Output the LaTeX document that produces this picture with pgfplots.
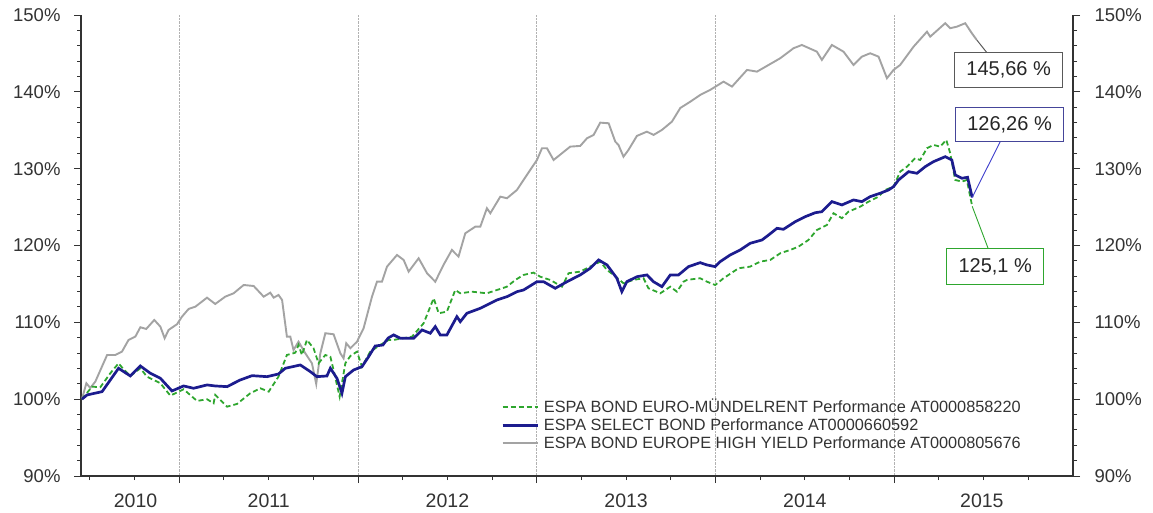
\documentclass[border=0pt]{standalone}
\usepackage{pgfplots}
\pgfplotsset{compat=1.18}
\usepackage{pgfplotstable}
\usepackage{fontspec}
\setmainfont{Liberation Sans}
\definecolor{cgreen}{HTML}{2EA62E}
\definecolor{cblue}{HTML}{1C1C8E}
\definecolor{cgray}{HTML}{A3A3A3}
\definecolor{txt}{HTML}{333333}

\pgfplotstableread{
x y
2010.455 100.00
2010.480 102.07
2010.502 101.46
2010.530 102.28
2010.596 105.75
2010.642 105.75
2010.679 106.18
2010.716 107.71
2010.754 108.14
2010.782 109.36
2010.815 109.14
2010.860 110.31
2010.894 109.44
2010.918 107.93
2010.940 109.01
2010.987 109.75
2011.015 110.74
2011.052 111.74
2011.090 112.04
2011.155 113.21
2011.201 112.39
2011.257 113.34
2011.304 113.78
2011.360 114.86
2011.416 114.73
2011.472 113.34
2011.509 113.86
2011.528 113.21
2011.555 113.56
2011.575 112.91
2011.602 108.14
2011.621 108.14
2011.639 106.40
2011.667 107.48
2011.705 105.97
2011.742 104.67
2011.766 101.98
2011.789 105.97
2011.817 108.58
2011.863 108.45
2011.901 105.97
2011.919 105.32
2011.934 107.28
2011.957 106.63
2011.994 107.48
2012.031 109.23
2012.078 113.34
2012.106 115.29
2012.134 115.29
2012.162 117.25
2012.218 118.77
2012.255 118.12
2012.283 116.60
2012.339 118.34
2012.386 116.39
2012.432 115.29
2012.478 117.47
2012.525 119.42
2012.562 118.55
2012.600 121.59
2012.656 122.45
2012.684 122.45
2012.721 124.85
2012.740 124.20
2012.796 126.36
2012.833 126.15
2012.889 127.23
2012.926 128.53
2012.982 130.48
2013.001 131.13
2013.029 132.66
2013.057 132.66
2013.094 131.13
2013.141 132.01
2013.187 132.87
2013.243 132.96
2013.281 133.96
2013.318 134.39
2013.355 135.99
2013.402 135.91
2013.439 133.52
2013.457 133.09
2013.485 131.56
2013.513 132.44
2013.560 134.26
2013.616 134.82
2013.653 134.39
2013.700 135.04
2013.756 136.12
2013.803 137.90
2013.859 138.72
2013.914 139.59
2013.970 140.25
2014.045 141.33
2014.092 140.68
2014.176 142.85
2014.232 142.63
2014.297 143.50
2014.362 144.37
2014.436 145.67
2014.483 146.10
2014.567 145.23
2014.595 144.15
2014.651 146.10
2014.716 145.23
2014.772 143.50
2014.819 144.58
2014.865 145.02
2014.912 144.58
2014.959 141.77
2014.996 142.85
2015.033 143.50
2015.108 145.88
2015.183 147.83
2015.201 147.18
2015.285 148.93
2015.313 148.28
2015.350 148.48
2015.397 148.93
2015.434 147.63
2015.460 146.80
}\grayt

\pgfplotstableread{
x y
2010.455 100.00
2010.484 100.55
2010.568 100.98
2010.614 102.50
2010.660 104.02
2010.726 103.02
2010.782 104.32
2010.838 103.37
2010.894 102.72
2010.959 101.07
2011.024 101.72
2011.080 101.42
2011.155 101.85
2011.201 101.72
2011.267 101.63
2011.341 102.50
2011.407 103.06
2011.491 102.93
2011.555 103.28
2011.593 104.02
2011.677 104.45
2011.733 103.58
2011.770 102.93
2011.826 103.02
2011.845 104.02
2011.882 102.72
2011.910 100.77
2011.929 102.93
2011.975 103.80
2012.022 104.23
2012.059 105.53
2012.096 106.92
2012.139 107.05
2012.169 107.97
2012.199 108.36
2012.236 107.93
2012.311 107.93
2012.358 109.01
2012.404 108.58
2012.432 109.44
2012.460 108.36
2012.497 108.36
2012.553 110.74
2012.572 110.09
2012.609 111.18
2012.684 111.83
2012.721 112.26
2012.777 112.91
2012.833 113.34
2012.889 113.99
2012.926 114.21
2013.001 115.29
2013.038 115.29
2013.103 114.43
2013.169 115.29
2013.243 116.17
2013.299 117.04
2013.346 118.12
2013.393 117.47
2013.448 115.74
2013.476 113.99
2013.504 115.29
2013.560 115.94
2013.616 116.17
2013.653 115.29
2013.700 114.64
2013.747 116.17
2013.793 116.17
2013.849 117.25
2013.914 117.77
2013.952 117.47
2013.998 117.25
2014.026 117.90
2014.082 118.77
2014.138 119.42
2014.194 120.29
2014.260 120.72
2014.297 121.37
2014.344 122.24
2014.380 122.11
2014.446 123.10
2014.502 123.75
2014.558 124.27
2014.595 124.40
2014.651 125.71
2014.707 125.28
2014.772 125.93
2014.819 125.71
2014.865 126.36
2014.921 126.80
2014.968 127.23
2014.996 127.66
2015.024 128.53
2015.080 129.61
2015.127 129.40
2015.173 130.26
2015.219 130.91
2015.285 131.56
2015.322 131.13
2015.341 129.18
2015.378 128.75
2015.410 128.88
2015.436 126.26
}\bluet

\pgfplotstableread{
x y
2010.455 100.00
2010.512 101.63
2010.558 101.55
2010.614 103.37
2010.660 104.67
2010.688 103.89
2010.726 103.02
2010.782 104.02
2010.819 102.93
2010.894 102.07
2010.950 100.46
2011.024 101.29
2011.099 99.77
2011.155 99.99
2011.192 99.47
2011.201 100.55
2011.267 99.02
2011.323 99.38
2011.397 100.77
2011.453 101.42
2011.500 100.98
2011.555 102.93
2011.602 105.75
2011.649 106.05
2011.667 107.05
2011.686 105.75
2011.714 107.71
2011.751 106.63
2011.779 104.67
2011.817 105.75
2011.845 105.53
2011.863 103.80
2011.897 100.33
2011.929 104.67
2011.957 105.62
2011.994 106.18
2012.022 104.23
2012.068 106.18
2012.124 107.05
2012.171 107.71
2012.199 107.71
2012.302 108.14
2012.367 109.88
2012.423 113.13
2012.451 111.18
2012.497 111.39
2012.544 114.21
2012.572 113.78
2012.637 113.99
2012.721 113.78
2012.777 114.21
2012.833 114.64
2012.880 115.52
2012.926 116.17
2012.982 116.47
2013.019 115.94
2013.075 115.52
2013.141 114.64
2013.178 116.39
2013.243 116.60
2013.318 117.47
2013.355 117.90
2013.393 116.82
2013.429 116.17
2013.485 115.09
2013.541 115.52
2013.597 115.74
2013.625 114.43
2013.691 113.78
2013.747 114.64
2013.784 113.99
2013.821 115.29
2013.840 115.52
2013.914 115.74
2013.952 115.29
2013.998 114.86
2014.045 115.74
2014.129 117.04
2014.194 117.25
2014.250 117.90
2014.306 118.12
2014.362 118.99
2014.418 119.42
2014.464 119.85
2014.520 120.72
2014.567 122.02
2014.623 122.67
2014.660 124.20
2014.707 123.55
2014.744 124.40
2014.810 125.06
2014.856 125.71
2014.912 126.36
2014.949 127.23
2014.996 127.66
2015.033 129.61
2015.071 130.26
2015.117 131.36
2015.145 131.13
2015.183 132.66
2015.219 133.09
2015.257 132.87
2015.291 133.74
2015.313 132.01
2015.341 128.53
2015.378 128.31
2015.406 128.53
2015.436 125.10
}\greent

\begin{document}
\begin{tikzpicture}[x=1pt,y=1pt]
\path[use as bounding box] (0,0) rectangle (1153,512);
\begin{axis}[
  at={(81pt,36pt)}, anchor=south west,
  scale only axis, width=992pt, height=461pt,
  xmin=2010.45, xmax=2016, ymin=90, ymax=150,
  axis x line*=bottom, axis y line*=left,
  axis line style={-, txt, line width=1.1pt},
  tick align=outside,
  major tick length=7pt, minor tick length=4pt,
  tick style={txt, line width=1pt},
  xtick={2011,2012,2013,2014,2015},
  xticklabels={,,,,},
  minor xtick={2010.5,2010.75,2011.25,2011.5,2011.75,2012.25,2012.5,2012.75,2013.25,2013.5,2013.75,2014.25,2014.5,2014.75,2015.25,2015.5,2015.75},
  xmajorgrids,
  major grid style={densely dotted, black!30, line width=0.9pt},
  extra x ticks={2010.755,2011.5,2012.5,2013.5,2014.5,2015.49},
  extra x tick labels={2010,2011,2012,2013,2014,2015},
  extra x tick style={grid=none, major tick length=0pt, tick style={draw=none},
     xticklabel style={yshift=-14pt}},
  xticklabel style={font=\fontsize{19.5}{21}\selectfont, text=txt},
  ytick={90,100,110,120,130,140,150},
  minor y tick num=4,
  yticklabel={\pgfmathprintnumber{\tick}\%},
  /pgf/number format/assume math mode=true,
  yticklabel style={font=\fontsize{18.5}{20}\selectfont, text=txt, xshift=-10pt},
  clip mode=individual,
  legend cell align=left,
  legend style={at={(0.4235,0.172)}, anchor=north west, draw=none, fill=none,
     font=\fontsize{16.3}{17}\selectfont, inner sep=0pt,
     nodes={inner ysep=2.2pt, inner xsep=5pt, text=txt}},
  legend image code/.code={\draw[#1] (0pt,0pt) -- (35pt,0pt);},
]
\addlegendimage{draw=cgreen, line width=1.8pt, dash pattern=on 5pt off 3pt}
\addlegendentry{ESPA BOND EURO-MÜNDELRENT Performance AT0000858220}
\addlegendimage{draw=cblue, line width=2.6pt}
\addlegendentry{ESPA SELECT BOND Performance AT0000660592}
\addlegendimage{draw=cgray, line width=1.9pt}
\addlegendentry{ESPA BOND EUROPE HIGH YIELD Performance AT0000805676}

\addplot[cgray, line width=1.9pt, forget plot] table {\grayt};
\addplot[cgreen, line width=1.8pt, dash pattern=on 5pt off 3pt, forget plot] table {\greent};
\addplot[cblue, line width=2.7pt, forget plot] table {\bluet};

\draw[black!65, line width=1pt] (axis cs:2015.460,146.80) -- (axis cs:2015.518,145.10);
\draw[blue!70!white!80!black, line width=0.9pt] (axis cs:2015.436,126.26) -- (axis cs:2015.593,133.52);
\draw[cgreen, line width=0.9pt] (axis cs:2015.436,125.10) -- (axis cs:2015.527,119.51);

\node[draw=black!65, line width=1.1pt, fill=white, minimum width=108pt, minimum height=35pt, inner sep=0pt,
  font=\fontsize{20}{22}\selectfont, text=black!85] at (axis cs:2015.640,142.84) {145,66 \%};
\node[draw=blue!55!white!60!black, line width=1.1pt, fill=white, minimum width=108pt, minimum height=34pt, inner sep=0pt,
  font=\fontsize{20}{22}\selectfont, text=black!85] at (axis cs:2015.645,135.73) {126,26 \%};
\node[draw=cgreen, line width=1.1pt, fill=white, minimum width=97pt, minimum height=36pt, inner sep=0pt,
  font=\fontsize{20}{22}\selectfont, text=black!85] at (axis cs:2015.565,117.21) {125,1 \%};
\end{axis}
\begin{axis}[
  at={(81pt,36pt)}, anchor=south west,
  scale only axis, width=992pt, height=461pt,
  xmin=2010.45, xmax=2016, ymin=90, ymax=150,
  hide x axis, axis y line*=right,
  axis line style={-, txt, line width=1.1pt},
  tick align=outside,
  major tick length=7pt, minor tick length=4pt,
  tick style={txt, line width=1pt},
  ytick={90,100,110,120,130,140,150},
  minor y tick num=4,
  yticklabel={\pgfmathprintnumber{\tick}\%},
  /pgf/number format/assume math mode=true,
  yticklabel style={font=\fontsize{18.5}{20}\selectfont, text=txt, xshift=11pt},
]
\end{axis}
\end{tikzpicture}
\end{document}
